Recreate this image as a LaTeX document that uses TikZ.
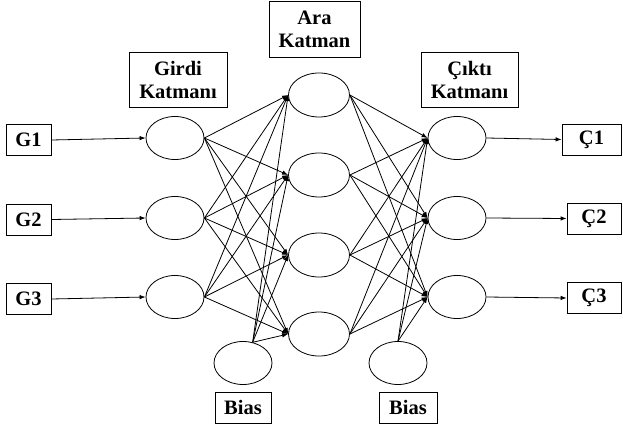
\documentclass[tikz,border=0pt]{standalone}
\usepackage{fontspec}
\setmainfont{Liberation Serif}
\usetikzlibrary{shapes.geometric,arrows.meta}
\begin{document}
\begin{tikzpicture}[x=1pt,y=-1pt,line width=0.8pt,
  neuron/.style={draw,ellipse,minimum width=58pt,minimum height=43pt,inner sep=0pt},
  kutu/.style={draw,inner sep=0pt,align=center,font=\bfseries\fontsize{20.5}{23}\selectfont},
  ok/.style={-{Latex[length=6pt,width=4.5pt]}}]
  \useasboundingbox (0,0) rectangle (623,430);
  \node[kutu,minimum width=45pt,minimum height=31pt] (g1) at (28.5,140) {G1}; \node[kutu,minimum width=45pt,minimum height=31pt] (g2) at (28.5,219.5) {G2}; \node[kutu,minimum width=45pt,minimum height=31pt] (g3) at (28.5,299) {G3};
  \node[neuron] (i1) at (175,138) {}; \node[neuron] (i2) at (175,218) {}; \node[neuron] (i3) at (175,297) {};
  \node[neuron,minimum width=61pt,minimum height=44pt] (h1) at (319,95) {}; \node[neuron,minimum width=61pt,minimum height=44pt] (h2) at (319,175) {};
  \node[neuron,minimum width=61pt,minimum height=44pt] (h3) at (319,255) {}; \node[neuron,minimum width=61pt,minimum height=44pt] (h4) at (319,334) {};
  \node[neuron] (o1) at (457,138) {}; \node[neuron] (o2) at (457,218) {}; \node[neuron] (o3) at (457,297) {};
  \node[neuron] (b1) at (243,363) {}; \node[neuron] (b2) at (398,363) {};
  \node[kutu,minimum width=59pt,minimum height=31pt] (c1) at (591.5,139.5) {Ç1}; \node[kutu,minimum width=54pt,minimum height=31pt] (c2) at (594,218.5) {Ç2}; \node[kutu,minimum width=54pt,minimum height=31pt] (c3) at (594,298) {Ç3};
  \node[kutu,minimum width=98pt,minimum height=55pt] (girdi) at (178,79.5) {Girdi\\Katmanı}; \node[kutu,minimum width=91pt,minimum height=56pt] (ara) at (314.5,29) {Ara\\Katman};
  \node[kutu,minimum width=97pt,minimum height=55pt] (cikti) at (469.5,79.5) {Çıktı\\Katmanı};
  \node[kutu,minimum width=56pt,minimum height=31pt] (biasA) at (243,407.5) {Bias}; \node[kutu,minimum width=58pt,minimum height=31pt] (biasB) at (408,407.5) {Bias};
  \foreach \k in {1,2,3} {\draw[ok] (g\k.east) -- (i\k.west); \draw[ok] (o\k.east) -- (c\k.west);}
  \foreach \a in {1,2,3} {\foreach \b in {1,2,3,4} {\draw[ok] (i\a.east) -- (h\b.west);}}
  \foreach \b in {1,2,3,4} {\draw[ok] (b1.65) -- (h\b.west); \foreach \c in {1,2,3} {\draw[ok] (h\b.east) -- (o\c.west);}}
  \foreach \c in {1,2,3} {\draw[ok] (b2.north) -- (o\c.west);}
\end{tikzpicture}
\end{document}
